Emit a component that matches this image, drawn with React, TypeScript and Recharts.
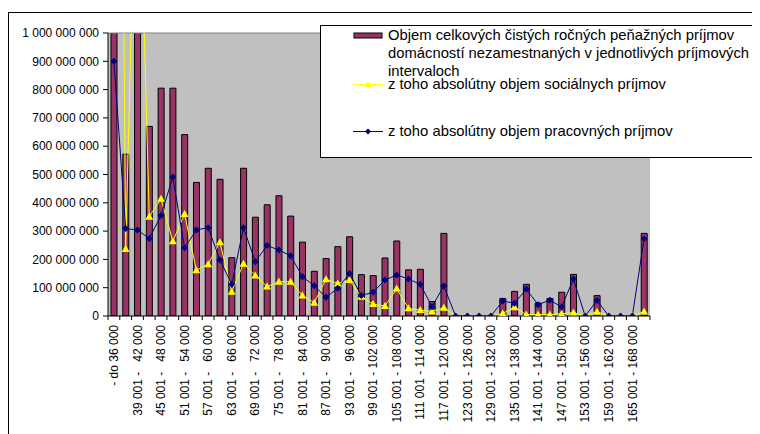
import { Bar, CartesianGrid, ComposedChart, Legend, Line, ReferenceLine, XAxis, YAxis } from 'recharts'

const FONT = '"Liberation Sans", Arial, sans-serif'
const PLUM = '#993366'
const YELLOW = '#ffff00'
const NAVY = '#000080'

// income brackets (SKK), one bar per bracket
const CATEGORIES = [
  '- do 36 000',
  '36 001 - \u200739 000',
  '39 001 - \u200742 000',
  '42 001 - \u200745 000',
  '45 001 - \u200748 000',
  '48 001 - \u200751 000',
  '51 001 - \u200754 000',
  '54 001 - \u200757 000',
  '57 001 - \u200760 000',
  '60 001 - \u200763 000',
  '63 001 - \u200766 000',
  '66 001 - \u200769 000',
  '69 001 - \u200772 000',
  '72 001 - \u200775 000',
  '75 001 - \u200778 000',
  '78 001 - \u200781 000',
  '81 001 - \u200784 000',
  '84 001 - \u200787 000',
  '87 001 - \u200790 000',
  '90 001 - \u200793 000',
  '93 001 - \u200796 000',
  '96 001 - \u200799 000',
  '99 001 - 102 000',
  '102 001 - 105 000',
  '105 001 - 108 000',
  '108 001 - 111 000',
  '111 001 - 114 000',
  '114 001 - 117 000',
  '117 001 - 120 000',
  '120 001 - 123 000',
  '123 001 - 126 000',
  '126 001 - 129 000',
  '129 001 - 132 000',
  '132 001 - 135 000',
  '135 001 - 138 000',
  '138 001 - 141 000',
  '141 001 - 144 000',
  '144 001 - 147 000',
  '147 001 - 150 000',
  '150 001 - 153 000',
  '153 001 - 156 000',
  '156 001 - 159 000',
  '159 001 - 162 000',
  '162 001 - 165 000',
  '165 001 - 168 000',
  'nad 168 000',
]

const TOTAL = [
  6600e6, 572e6, 2300e6, 670e6, 805e6, 805e6, 641e6, 472e6, 522e6, 483e6,
  206e6, 522e6, 349e6, 393e6, 425e6, 353e6, 261e6, 158e6, 203e6, 245e6,
  280e6, 146e6, 143e6, 205e6, 265e6, 163e6, 165e6, 51e6, 292e6, 0,
  0, 0, 0, 62e6, 87e6, 112e6, 46e6, 62e6, 84e6, 147e6,
  0, 72e6, 0, 0, 0, 292e6,
]

const SOCIAL = [
  5500e6, 237e6, 1900e6, 351e6, 414e6, 264e6, 360e6, 162e6, 183e6, 261e6,
  86e6, 185e6, 143e6, 104e6, 121e6, 121e6, 72e6, 47e6, 130e6, 115e6,
  127e6, 68e6, 42e6, 35e6, 97e6, 27e6, 21e6, 16e6, 29e6, 0,
  0, 0, 0, 9e6, 31e6, 5e6, 5e6, 5e6, 8e6, 12e6,
  0, 15e6, 0, 0, 0, 16e6,
]

const WORK = [
  900e6, 309e6, 304e6, 274e6, 355e6, 491e6, 241e6, 304e6, 312e6, 198e6,
  112e6, 312e6, 192e6, 249e6, 233e6, 213e6, 139e6, 107e6, 66e6, 98e6,
  150e6, 72e6, 84e6, 127e6, 145e6, 131e6, 112e6, 33e6, 106e6, 0,
  0, 0, 0, 53e6, 45e6, 95e6, 40e6, 56e6, 32e6, 131e6,
  0, 55e6, 0, 0, 0, 273e6,
]

const Y_TICKS = [0, 1e8, 2e8, 3e8, 4e8, 5e8, 6e8, 7e8, 8e8, 9e8, 1e9]

const TOTAL_NAME = [
  'Objem celkových čistých ročných peňažných príjmov',
  'domácností nezamestnaných v jednotlivých príjmových',
  'intervaloch',
]
const SOCIAL_NAME = 'z toho absolútny objem sociálnych príjmov'
const WORK_NAME = 'z toho absolútny objem pracovných príjmov'

const data = CATEGORIES.map((label, i) => ({
  label,
  total: TOTAL[i],
  social: SOCIAL[i],
  work: WORK[i],
}))

const W = 752
const H = 426
const MARGIN = { top: 25, right: 110, bottom: 8, left: 0 }
const Y_W = 100
const X_H = 110
const PLOT_W = W - MARGIN.left - MARGIN.right - Y_W
const STEP = PLOT_W / CATEGORIES.length

const fmt = (v: number) => String(Math.round(v)).replace(/\B(?=(\d{3})+(?!\d))/g, ' ')

function CategoryTick(props: any) {
  const { x, y, payload } = props
  const i = props.index ?? payload.index
  const left = x - STEP / 2
  return (
    <g>
      <line x1={left} y1={y} x2={left} y2={y + 4} stroke="#000" />
      {i === CATEGORIES.length - 1 && (
        <line x1={x + STEP / 2} y1={y} x2={x + STEP / 2} y2={y + 4} stroke="#000" />
      )}
      {i % 2 === 0 && (
        <text
          transform={`translate(${x},${y + 9}) rotate(-90)`}
          textAnchor="end"
          dy="0.35em"
          fontSize={12}
          fontFamily={FONT}
          fill="#000"
          style={{ whiteSpace: 'pre' }}
        >
          {payload.value}
        </text>
      )}
    </g>
  )
}

const triangle = (cx: number, cy: number, r: number) =>
  `M${cx},${cy - r}L${cx + r},${cy + r * 0.75}L${cx - r},${cy + r * 0.75}Z`
const diamond = (cx: number, cy: number, r: number) =>
  `M${cx},${cy - r}L${cx + r},${cy}L${cx},${cy + r}L${cx - r},${cy}Z`

function SocialDot(props: any) {
  const { cx, cy, index } = props
  if (cx == null || cy == null) return <g key={`s${index}`} />
  return <path key={`s${index}`} d={triangle(cx, cy, 4)} fill={YELLOW} />
}

function WorkDot(props: any) {
  const { cx, cy, index } = props
  if (cx == null || cy == null) return <g key={`w${index}`} />
  return <path key={`w${index}`} d={diamond(cx, cy, 3.5)} fill={NAVY} />
}

function LegendBox() {
  const text = { position: 'absolute' as const, left: 67, lineHeight: '17.8px', whiteSpace: 'nowrap' as const }
  return (
    <div
      style={{
        position: 'relative',
        width: 460,
        height: 133,
        background: '#fff',
        border: '1px solid #000',
        boxSizing: 'border-box',
        fontFamily: FONT,
        fontSize: 14.8,
        color: '#000',
      }}
    >
      <svg width={70} height={131} style={{ position: 'absolute', left: 0, top: 0 }}>
        <rect x={33} y={7} width={28} height={5} fill={PLUM} stroke="#000" />
        <line x1={32} x2={62} y1={58.5} y2={58.5} stroke={YELLOW} strokeWidth={1} />
        <path d={triangle(47, 58.5, 3.5)} fill={YELLOW} />
        <line x1={32} x2={62} y1={105.5} y2={105.5} stroke={NAVY} strokeWidth={1} />
        <path d={diamond(47, 105.5, 3)} fill={NAVY} />
      </svg>
      <div style={{ ...text, top: 1 }}>
        {TOTAL_NAME.map((l) => (
          <div key={l}>{l}</div>
        ))}
      </div>
      <div style={{ ...text, top: 49.5 }}>{SOCIAL_NAME}</div>
      <div style={{ ...text, top: 96.5 }}>{WORK_NAME}</div>
    </div>
  )
}

export default function App() {
  return (
    <div style={{ position: 'relative', width: W, height: H, overflow: 'hidden', fontFamily: FONT }}>
      <div
        style={{
          position: 'absolute',
          left: 0,
          top: 4,
          width: W + 20,
          height: H + 20,
          borderLeft: '1px solid #000',
          borderTop: '1px solid #000',
        }}
      />
      <ComposedChart width={W} height={H} data={data} margin={MARGIN} barSize={6}>
        <CartesianGrid fill="#c0c0c0" fillOpacity={1} horizontal={false} vertical={false} yAxisId="v" />
        <XAxis
          dataKey="label"
          height={X_H}
          interval={0}
          tickSize={0}
          tickMargin={0}
          tickLine={false}
          axisLine={{ stroke: '#000' }}
          tick={<CategoryTick />}
        />
        <YAxis
          yAxisId="v"
          width={Y_W}
          domain={[0, 1e9]}
          allowDataOverflow
          ticks={Y_TICKS}
          interval={0}
          tickFormatter={fmt}
          tickSize={5}
          tickMargin={4}
          axisLine={{ stroke: '#000' }}
          tickLine={{ stroke: '#000' }}
          tick={{ fontSize: 12, fill: '#000', fontFamily: FONT }}
        />
        <YAxis
          yAxisId="frame"
          orientation="right"
          width={0}
          domain={[0, 1]}
          tick={false}
          tickLine={false}
          axisLine={{ stroke: '#808080' }}
        />
        <ReferenceLine yAxisId="v" y={1e9} stroke="#808080" />
        <Bar yAxisId="v" dataKey="total" fill={PLUM} stroke="#000" strokeWidth={1} isAnimationActive={false} />
        <Line
          yAxisId="v"
          dataKey="social"
          stroke={YELLOW}
          strokeWidth={1}
          dot={SocialDot}
          activeDot={false}
          isAnimationActive={false}
        />
        <Line
          yAxisId="v"
          dataKey="work"
          stroke={NAVY}
          strokeWidth={1}
          dot={WorkDot}
          activeDot={false}
          isAnimationActive={false}
        />
        <Legend
          layout="vertical"
          align="center"
          verticalAlign="middle"
          wrapperStyle={{ left: 312, top: 17, width: 460, height: 133 }}
          content={<LegendBox />}
        />
      </ComposedChart>
    </div>
  )
}
